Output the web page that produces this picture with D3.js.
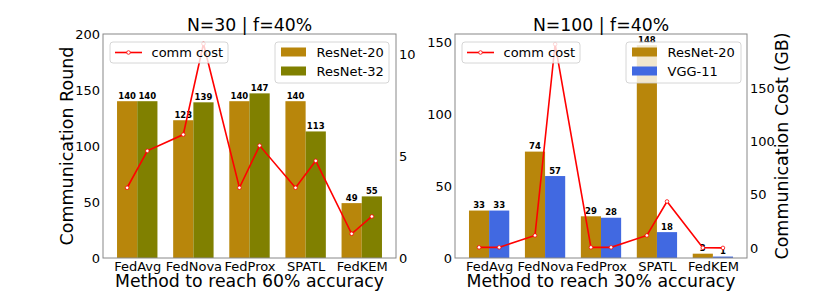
<!DOCTYPE html>
<html>
<head>
<meta charset="utf-8">
<script src="https://cdn.jsdelivr.net/npm/d3@7"></script>
<style>
  body { margin: 0; background: #fff; }
  svg { font-family: "DejaVu Sans", sans-serif; }
</style>
</head>
<body>
<script>
// data
var methods = ['FedAvg', 'FedNova', 'FedProx', 'SPATL', 'FedKEM'];

var leftTitle = 'N=30 | f=40%';
var leftXLabel = 'Method to reach 60% accuracy';
var leftSeriesNames = ['ResNet-20', 'ResNet-32'];
var leftResNet20 = [140, 123, 140, 140, 49];
var leftResNet32 = [140, 139, 147, 113, 55];
// comm cost, in order model A, model B for each method
var leftCost = [3.45, 5.26, 6.06, 10.52, 3.45, 5.52, 3.45, 4.77, 1.19, 2.04];
var leftTicks = [0, 50, 100, 150, 200];
var leftCostTicks = [0, 5, 10];

var rightTitle = 'N=100 | f=40%';
var rightXLabel = 'Method to reach 30% accuracy';
var rightSeriesNames = ['ResNet-20', 'VGG-11'];
var rightResNet20 = [33, 74, 29, 148, 3];
var rightVGG11 = [33, 57, 28, 18, 1];
var rightCost = [0.6, 0.6, 11.8, 191.4, 0.6, 0.6, 11.8, 43.7, 0.2, 0.1];
var rightTicks = [0, 50, 100, 150];
var rightCostTicks = [0, 50, 100, 150];

var svg = d3.select('body').append('svg').attr('width', 830).attr('height', 291);

var drawPanel = function(opt) {
  var x0 = opt.x0, x1 = opt.x1, yTop = 34, yBot = 258;
  var g = svg.append('g');

  var x = d3.scaleLinear().domain([-0.61, 4.61]).range([x0, x1]);
  var y = d3.scaleLinear().domain(opt.yDomain).range([yBot, yTop]);
  var y2 = d3.scaleLinear().domain(opt.y2Domain).range([yBot, yTop]);
  var bw = 0.36;

  // bars
  var series = [
    {vals: opt.a, color: opt.colors[0], off: -bw / 2},
    {vals: opt.b, color: opt.colors[1], off: bw / 2}
  ];
  series.forEach(function(s) {
    g.selectAll(null).data(s.vals).enter().append('rect')
      .attr('x', function(d, i) { return x(i + s.off - bw / 2); })
      .attr('width', x(bw) - x(0))
      .attr('y', function(d) { return y(d); })
      .attr('height', function(d) { return yBot - y(d); })
      .attr('fill', s.color);
    g.selectAll(null).data(s.vals).enter().append('text')
      .attr('x', function(d, i) { return x(i + s.off); })
      .attr('y', function(d) { return y(d) - 2.5; })
      .attr('text-anchor', 'middle')
      .attr('font-size', 8.5).attr('font-weight', 'bold')
      .text(function(d) { return d; });
  });

  // frame
  g.append('rect').attr('x', x0).attr('y', yTop).attr('width', x1 - x0).attr('height', yBot - yTop)
    .attr('fill', 'none').attr('stroke', '#888').attr('stroke-width', 1);

  // axes
  var ax = g.append('g').attr('transform', 'translate(0,' + yBot + ')')
    .call(d3.axisBottom(x).tickValues(d3.range(methods.length)).tickFormat(function(i) { return methods[i]; })
      .tickSize(0).tickPadding(3.5));
  var ay = g.append('g').attr('transform', 'translate(' + x0 + ',0)')
    .call(d3.axisLeft(y).tickValues(opt.ticks).tickSize(0).tickPadding(3));
  var ay2 = g.append('g').attr('transform', 'translate(' + x1 + ',0)')
    .call(d3.axisRight(y2).tickValues(opt.ticks2).tickSize(0).tickPadding(3));
  [ax, ay, ay2].forEach(function(a) {
    a.select('.domain').remove();
    a.selectAll('text').attr('font-size', 13).attr('fill', '#000')
      .attr('font-family', '"DejaVu Sans", sans-serif');
  });

  // bar legend
  var lg = g.append('g').attr('transform', 'translate(' + opt.barLegX + ',42)');
  lg.append('rect').attr('width', opt.barLegW).attr('height', 41).attr('rx', 3)
    .attr('fill', '#fff').attr('fill-opacity', 0.8).attr('stroke', '#ccc').attr('stroke-width', 0.8);
  opt.names.forEach(function(n, i) {
    lg.append('rect').attr('x', 6).attr('y', 5.5 + i * 19).attr('width', 25).attr('height', 9)
      .attr('fill', opt.colors[i]);
    lg.append('text').attr('x', 41.5).attr('y', 15 + i * 19).attr('font-size', 13).text(n);
  });

  // cost line
  var pts = opt.cost.map(function(c, k) {
    var i = Math.floor(k / 2), off = k % 2 === 0 ? -bw / 2 : bw / 2;
    return [x(i + off), y2(c)];
  });
  g.append('path').attr('d', d3.line()(pts)).attr('fill', 'none')
    .attr('stroke', '#ff0000').attr('stroke-width', 1.6);
  g.selectAll(null).data(pts).enter().append('circle')
    .attr('cx', function(d) { return d[0]; }).attr('cy', function(d) { return d[1]; })
    .attr('r', 1.8).attr('fill', '#fff').attr('stroke', '#ff0000').attr('stroke-width', 0.8);

  // cost legend
  var cl = g.append('g').attr('transform', 'translate(' + (x0 + 7) + ',42)');
  cl.append('rect').attr('width', 118).attr('height', 21).attr('rx', 3)
    .attr('fill', '#fff').attr('fill-opacity', 0.8).attr('stroke', '#ccc').attr('stroke-width', 0.8);
  cl.append('line').attr('x1', 5).attr('x2', 32).attr('y1', 10.5).attr('y2', 10.5)
    .attr('stroke', '#ff0000').attr('stroke-width', 1.6);
  cl.append('circle').attr('cx', 18.5).attr('cy', 10.5).attr('r', 1.8)
    .attr('fill', '#fff').attr('stroke', '#ff0000').attr('stroke-width', 0.8);
  cl.append('text').attr('x', 41.5).attr('y', 15).attr('font-size', 13).text('comm cost');

  // titles and labels
  var cx = (x0 + x1) / 2;
  g.append('text').attr('x', cx).attr('y', 30.7).attr('text-anchor', 'middle')
    .attr('font-size', 17.3).text(opt.title);
  g.append('text').attr('x', cx).attr('y', 287).attr('text-anchor', 'middle')
    .attr('font-size', 17.3).text(opt.xLabel);
  if (opt.yLabel) {
    g.append('text').attr('transform', 'translate(' + opt.yLabelX + ',' + ((yTop + yBot) / 2) + ') rotate(-90)')
      .attr('text-anchor', 'middle').attr('font-size', 17.5).text(opt.yLabel);
  }
  if (opt.y2Label) {
    g.append('text').attr('transform', 'translate(' + opt.y2LabelX + ',' + ((yTop + yBot) / 2) + ') rotate(-90)')
      .attr('text-anchor', 'middle').attr('font-size', 17.5).text(opt.y2Label);
  }
};

drawPanel({
  x0: 103, x1: 396, yDomain: [0, 200], y2Domain: [0, 11],
  a: leftResNet20, b: leftResNet32, cost: leftCost,
  colors: ['#b8860b', '#808000'], names: leftSeriesNames,
  ticks: leftTicks, ticks2: leftCostTicks,
  title: leftTitle, xLabel: leftXLabel,
  yLabel: 'Communication Round', yLabelX: 73,
  barLegX: 275, barLegW: 114
});

drawPanel({
  x0: 455, x1: 747, yDomain: [0, 155.8], y2Domain: [-9.4, 201],
  a: rightResNet20, b: rightVGG11, cost: rightCost,
  colors: ['#b8860b', '#4169e1'], names: rightSeriesNames,
  ticks: rightTicks, ticks2: rightCostTicks,
  title: rightTitle, xLabel: rightXLabel,
  y2Label: 'Communication Cost (GB)', y2LabelX: 788,
  barLegX: 626, barLegW: 115
});
</script>
</body>
</html>
